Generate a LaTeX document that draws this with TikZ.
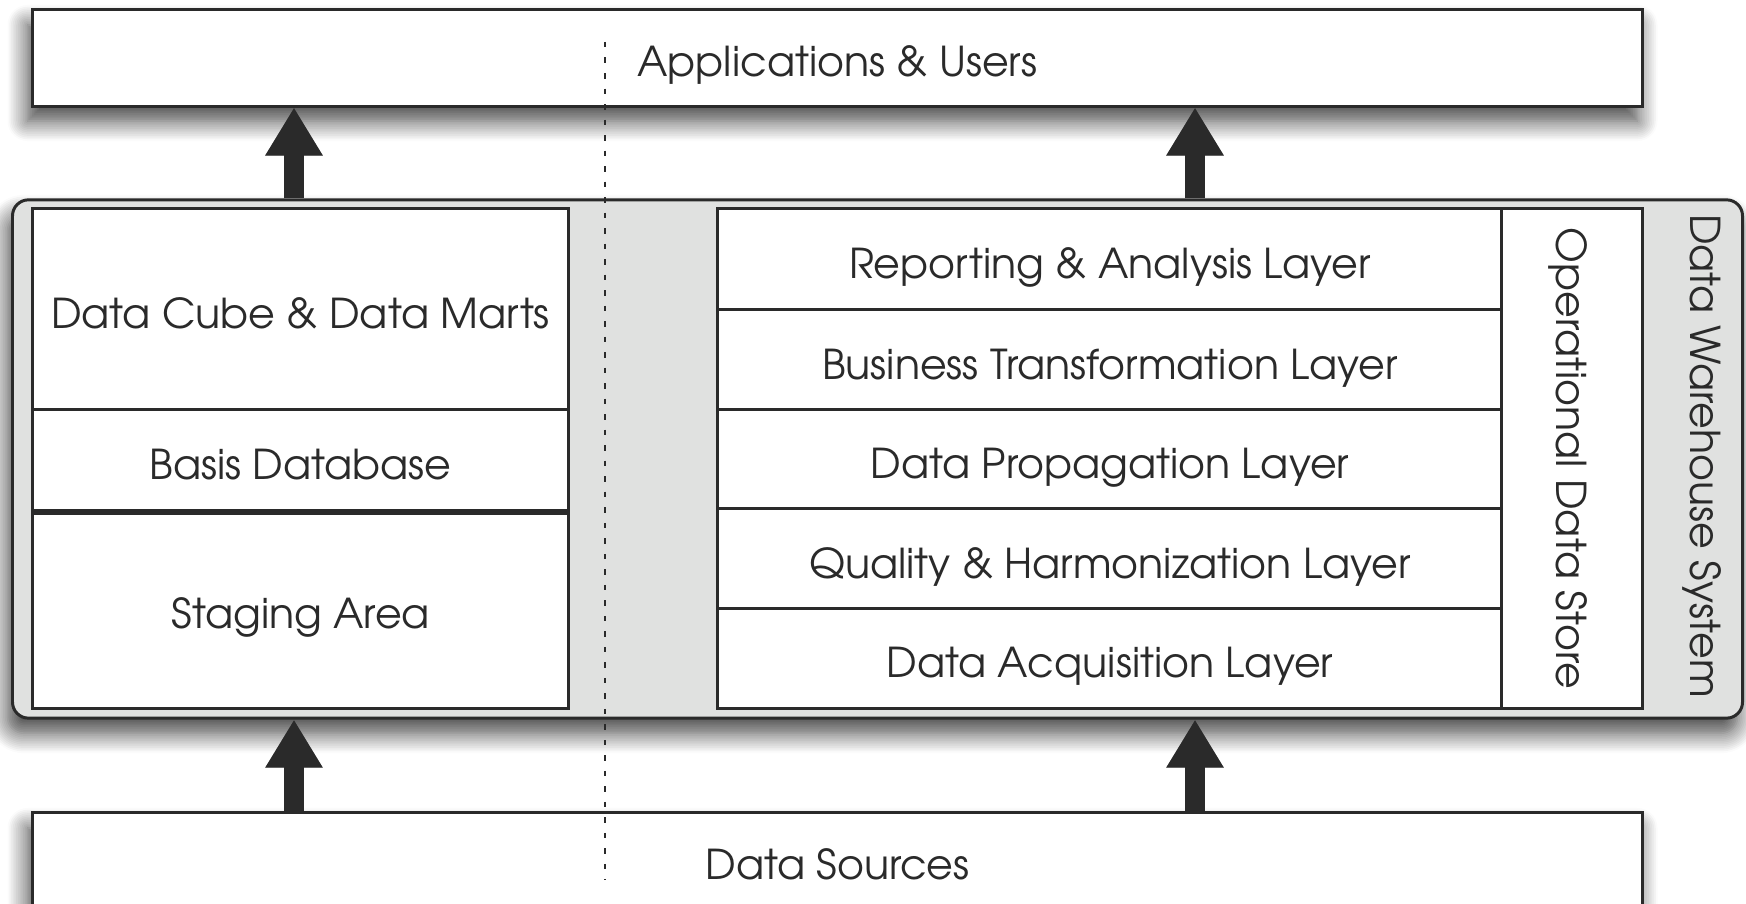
\documentclass[tikz,border=0pt]{standalone}
\usepackage{fontspec}
\setmainfont{TeX Gyre Adventor}
\usetikzlibrary{arrows.meta,shadows.blur}
\definecolor{ink}{HTML}{2A2A2A}
\definecolor{panel}{HTML}{E0E1E0}
\begin{document}
\begin{tikzpicture}[x=0.01cm,y=-0.01cm,
  txt/.style={font=\fontsize{11.7}{14}\selectfont, text=ink},
  box/.style={draw=ink, line width=0.85pt, fill=white, inner sep=0pt, txt, text height=0.38cm, text depth=0cm},
  vbox/.style={draw=ink, line width=0.85pt, fill=white, inner sep=0pt, txt, text height=0.31cm, text depth=0cm},
  shadowed/.style={blur shadow={shadow xshift=-0.05cm, shadow yshift=-0.15cm, shadow blur radius=0.2cm, shadow blur steps=12, shadow opacity=75}},
  fatarrow/.style={draw=ink, line width=0.2cm, -{Triangle[width=0.54cm,length=0.48cm]}},
  fatshadow/.style={draw=black, opacity=0.3, line width=0.2cm, -{Triangle[width=0.54cm,length=0.48cm]}},
  divider/.style={draw=ink, line width=0.75pt, dash pattern=on 0.055cm off 0.1cm},
]
\useasboundingbox (0,0) rectangle (1746,904);

% outer boxes
\node[box, shadowed, minimum width=16.09cm, minimum height=0.96cm] (apps) at (837.5,58) {Applications \& Users};
\node[box, shadowed, minimum width=16.09cm, minimum height=0.94cm] (src) at (837.5,860) {Data Sources};
\node[draw=ink, line width=0.85pt, fill=panel, rounded corners=0.16cm, shadowed, minimum width=17.29cm, minimum height=5.18cm] (dws) at (877.5,459) {};
\node[txt, rotate=-90, inner sep=0pt, text height=0.31cm, text depth=0cm] (dwsl) at (1706,456) {Data Warehouse System};

% left column
\node[box, minimum width=5.35cm, minimum height=2.01cm] (cube) at (300.5,309.5) {Data Cube \& Data Marts};
\node[box, minimum width=5.35cm, minimum height=1.01cm] (basis) at (300.5,460.5) {Basis Database};
\node[box, minimum width=5.35cm, minimum height=1.97cm] (stage) at (300.5,609.5) {Staging Area};
\draw[ink, line width=1.4pt] (basis.south west) -- (basis.south east);

% right column
\node[box, minimum width=7.84cm, minimum height=1.01cm] (rep) at (1110,259.5) {Reporting \& Analysis Layer};
\node[box, minimum width=7.84cm, minimum height=1.00cm] (bus) at (1110,360) {Business Transformation Layer};
\node[box, minimum width=7.84cm, minimum height=0.99cm] (prop) at (1110,459.5) {Data Propagation Layer};
\node[box, minimum width=7.84cm, minimum height=1.00cm] (qual) at (1110,559) {Quality \& Harmonization Layer};
\node[box, minimum width=7.84cm, minimum height=0.99cm] (acq) at (1110,658.5) {Data Acquisition Layer};
\node[vbox, rotate=-90, minimum width=4.99cm, minimum height=1.40cm] (ods) at (1572,458.5) {Operational Data Store};

% arrows
\coordinate (la) at (294,0);
\coordinate (ra) at (1195,0);
\begin{scope}[yshift=-0.05cm]
\draw[fatshadow] (la |- dws.north) -- (la |- apps.south);
\draw[fatshadow] (ra |- dws.north) -- (ra |- apps.south);
\draw[fatshadow] (la |- src.north) -- (la |- dws.south);
\draw[fatshadow] (ra |- src.north) -- (ra |- dws.south);
\end{scope}
\draw[fatarrow] (la |- dws.north) -- (la |- apps.south);
\draw[fatarrow] (ra |- dws.north) -- (ra |- apps.south);
\draw[fatarrow] (la |- src.north) -- (la |- dws.south);
\draw[fatarrow] (ra |- src.north) -- (ra |- dws.south);

% dotted divider
\coordinate (dtop) at (605,42);
\coordinate (dbot) at (605,880);
\draw[divider] (dtop) -- (dbot);
\end{tikzpicture}
\end{document}
